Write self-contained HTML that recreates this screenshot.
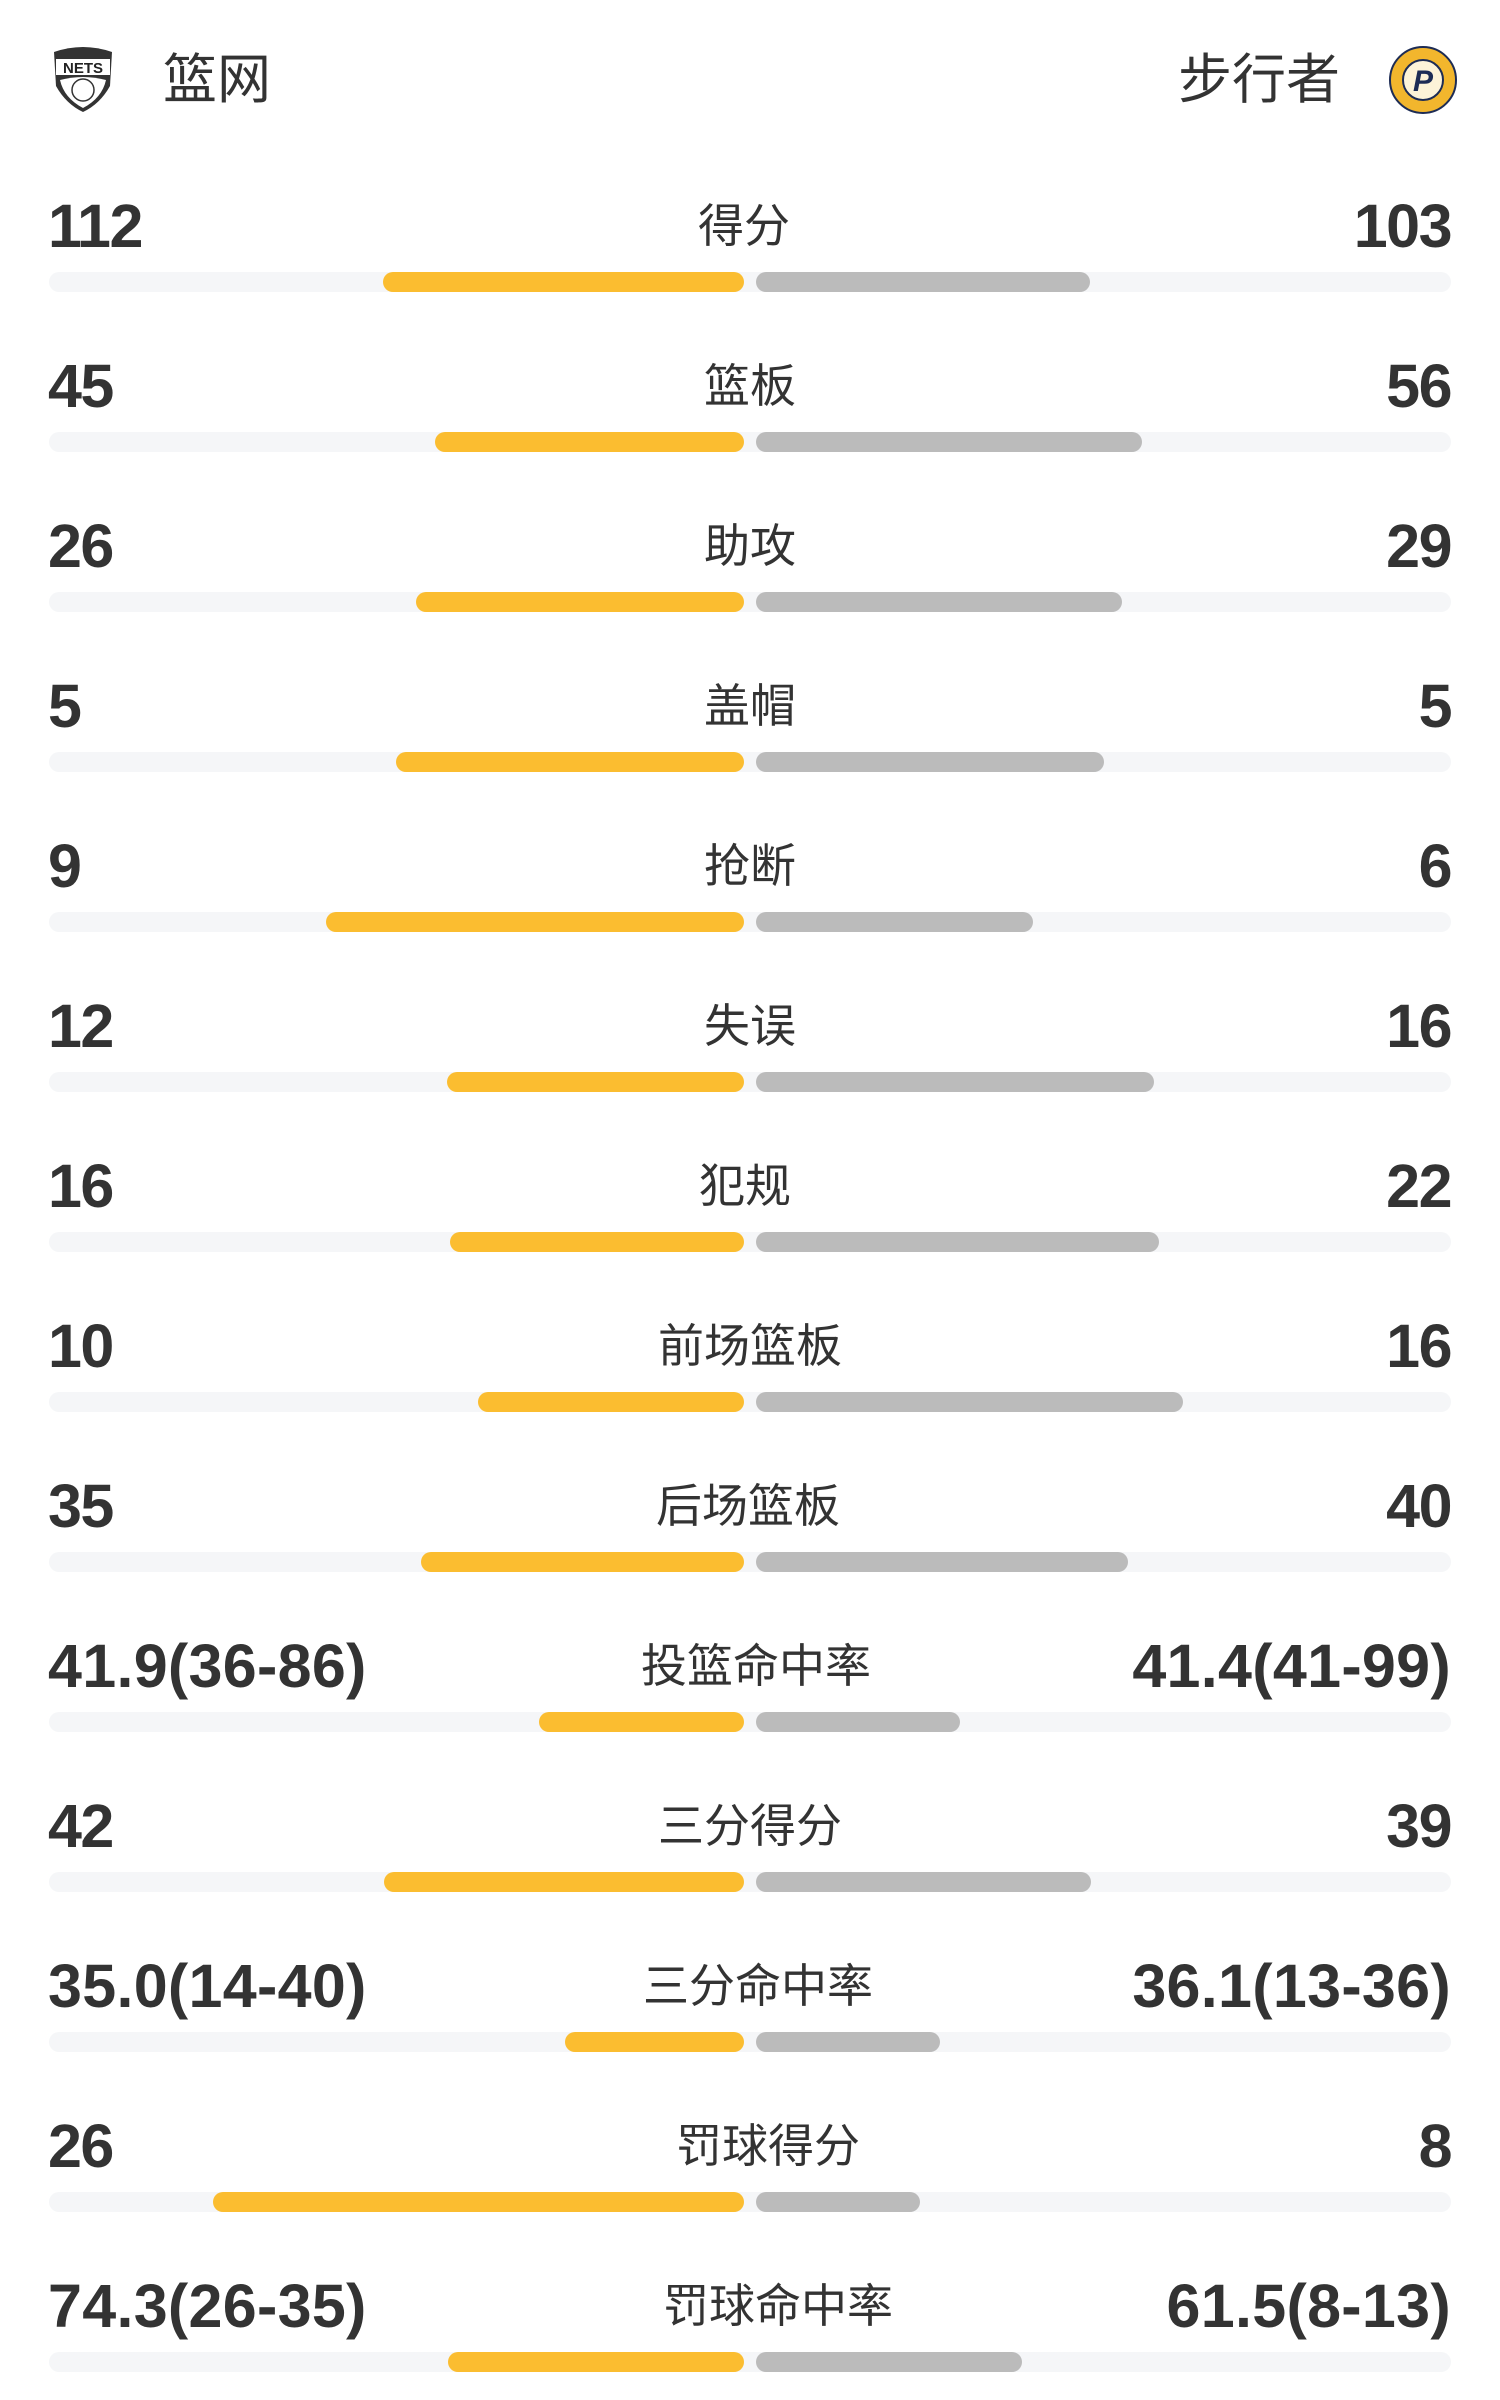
<!DOCTYPE html>
<html><head><meta charset="utf-8"><style>
body{margin:0;width:1500px;height:2400px;background:#fff;position:relative;overflow:hidden;font-family:"Liberation Sans","Noto Sans CJK SC",sans-serif;color:#333}
.a{position:absolute}
.n{position:absolute;top:191px;height:70px;line-height:70px;font-weight:bold;font-size:61px;letter-spacing:-1.5px;color:#333;white-space:nowrap}
.w{letter-spacing:0.3px}
.l{left:48px}.r{right:49px}
.lab{position:absolute;top:191px;height:70px;line-height:70px;font-size:46px;width:400px;margin-left:-200px;text-align:center;color:#333;white-space:nowrap}
.tr{position:absolute;top:272px;left:49px;width:1402px;height:20px;border-radius:10px;background:#f5f6f8}
.y{position:absolute;top:272px;height:20px;border-radius:10px;background:#fbbd30}
.g{position:absolute;top:272px;height:20px;border-radius:10px;background:#bbbbbb;left:756px}
.row{position:absolute;left:0;width:1500px;height:160px}
</style></head><body>
<svg class="a" style="left:50px;top:46px" width="66" height="68" viewBox="0 0 66 68">
<path d="M4 6 Q33 -4 62 6 L60 40 Q50 58 33 66 Q16 58 6 40 Z" fill="#333"/>
<path d="M10 34 Q33 28 56 34 Q52 52 33 62 Q14 52 10 34Z" fill="#fff"/>
<circle cx="33" cy="44" r="11" fill="none" stroke="#333" stroke-width="1.5"/>
<rect x="6" y="13" width="54" height="16" fill="#fff"/>
<text x="33" y="27" font-size="15" font-weight="bold" text-anchor="middle" font-family="Liberation Sans" fill="#222">NETS</text>
</svg>
<div class="a" style="left:163px;top:45px;font-size:54px;line-height:70px">篮网</div>
<div class="a" style="right:160px;top:45px;font-size:54px;line-height:70px">步行者</div>
<svg class="a" style="left:1388px;top:45px" width="70" height="70" viewBox="0 0 70 70">
<circle cx="35" cy="35" r="33" fill="#f2b62d" stroke="#1d2c55" stroke-width="2"/>
<circle cx="35" cy="35" r="20" fill="#fdf3d8" stroke="#1d2c55" stroke-width="2"/>
<text x="35" y="46" font-size="30" font-weight="bold" text-anchor="middle" font-family="Liberation Sans" fill="#1d2c55" font-style="italic">P</text>
</svg>

<div class="row" style="top:0"><div class="n l">112</div><div class="lab" style="left:744px">得分</div><div class="n r">103</div><div class="tr"></div><div class="y" style="left:383px;width:361px"></div><div class="g" style="width:334px"></div></div>
<div class="row" style="top:160px"><div class="n l">45</div><div class="lab" style="left:750px">篮板</div><div class="n r">56</div><div class="tr"></div><div class="y" style="left:435px;width:309px"></div><div class="g" style="width:386px"></div></div>
<div class="row" style="top:320px"><div class="n l">26</div><div class="lab" style="left:750px">助攻</div><div class="n r">29</div><div class="tr"></div><div class="y" style="left:416px;width:328px"></div><div class="g" style="width:366px"></div></div>
<div class="row" style="top:480px"><div class="n l">5</div><div class="lab" style="left:750px">盖帽</div><div class="n r">5</div><div class="tr"></div><div class="y" style="left:396px;width:348px"></div><div class="g" style="width:348px"></div></div>
<div class="row" style="top:640px"><div class="n l">9</div><div class="lab" style="left:750px">抢断</div><div class="n r">6</div><div class="tr"></div><div class="y" style="left:326px;width:418px"></div><div class="g" style="width:277px"></div></div>
<div class="row" style="top:800px"><div class="n l">12</div><div class="lab" style="left:750px">失误</div><div class="n r">16</div><div class="tr"></div><div class="y" style="left:447px;width:297px"></div><div class="g" style="width:398px"></div></div>
<div class="row" style="top:960px"><div class="n l">16</div><div class="lab" style="left:745px">犯规</div><div class="n r">22</div><div class="tr"></div><div class="y" style="left:450px;width:294px"></div><div class="g" style="width:403px"></div></div>
<div class="row" style="top:1120px"><div class="n l">10</div><div class="lab" style="left:750px">前场篮板</div><div class="n r">16</div><div class="tr"></div><div class="y" style="left:478px;width:266px"></div><div class="g" style="width:427px"></div></div>
<div class="row" style="top:1280px"><div class="n l">35</div><div class="lab" style="left:748px">后场篮板</div><div class="n r">40</div><div class="tr"></div><div class="y" style="left:421px;width:323px"></div><div class="g" style="width:372px"></div></div>
<div class="row" style="top:1440px"><div class="n l w">41.9(36-86)</div><div class="lab" style="left:756px">投篮命中率</div><div class="n r w">41.4(41-99)</div><div class="tr"></div><div class="y" style="left:539px;width:205px"></div><div class="g" style="width:204px"></div></div>
<div class="row" style="top:1600px"><div class="n l">42</div><div class="lab" style="left:750px">三分得分</div><div class="n r">39</div><div class="tr"></div><div class="y" style="left:384px;width:360px"></div><div class="g" style="width:335px"></div></div>
<div class="row" style="top:1760px"><div class="n l w">35.0(14-40)</div><div class="lab" style="left:758px">三分命中率</div><div class="n r w">36.1(13-36)</div><div class="tr"></div><div class="y" style="left:565px;width:179px"></div><div class="g" style="width:184px"></div></div>
<div class="row" style="top:1920px"><div class="n l">26</div><div class="lab" style="left:768px">罚球得分</div><div class="n r">8</div><div class="tr"></div><div class="y" style="left:213px;width:531px"></div><div class="g" style="width:164px"></div></div>
<div class="row" style="top:2080px"><div class="n l w">74.3(26-35)</div><div class="lab" style="left:778px">罚球命中率</div><div class="n r w">61.5(8-13)</div><div class="tr"></div><div class="y" style="left:448px;width:296px"></div><div class="g" style="width:266px"></div></div>
</body></html>
